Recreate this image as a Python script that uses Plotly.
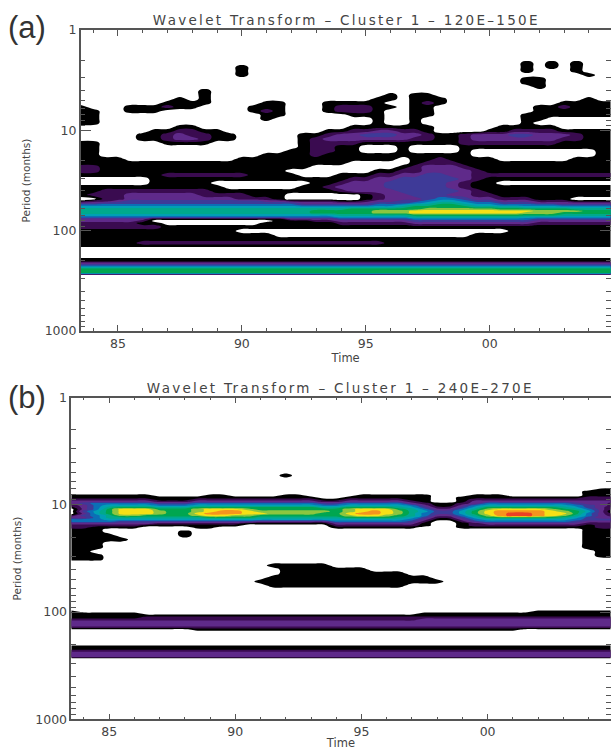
import plotly.graph_objects as go

W, H = 611, 750

YEARS = [83.5 + 0.5 * k for k in range(44)]
TICK_YEARS = [85, 90, 95, 100]
TICK_YEAR_LABELS = ["85", "90", "95", "00"]
TICK_PERIODS = [1, 10, 100, 1000]
TICK_PERIOD_LABELS = ["1", "10", "100", "1000"]
MINOR_PERIODS = [2, 3, 4, 5, 6, 7, 8, 9, 20, 30, 40, 50, 60, 70, 80, 90,
                 200, 300, 400, 500, 600, 700, 800, 900]
MINOR_YEARS = [84, 86, 87, 88, 89, 91, 92, 93, 94, 96, 97, 98, 99, 101, 102, 103, 104]

# contour band per cell: 0 white, 1 black, 2.. rainbow up to c = red
COLORS = ["#ffffff", "#000000", "#3a0b50", "#5f2a8a", "#3e3a98", "#0b6fb6", "#00a0b4",
          "#00a98c", "#00a650", "#8cc63f", "#f6e016", "#f7941d", "#ee4023"]

PERIODS_A = [1, 1.78, 1.95, 2.13, 2.34, 2.56, 2.81, 3.08, 3.37, 3.70, 4.05, 4.45, 4.87, 5.34,
             5.85, 6.42, 7.03, 7.71, 8.45, 9.27, 10.2, 11.1, 12.2, 13.4, 14.7, 16.1, 17.6,
             19.3, 21.2, 23.2, 25.4, 27.9, 30.5, 33.5, 36.7, 40.2, 44.2, 48.3, 50.6, 53.0,
             55.5, 58.1, 60.8, 63.7, 66.7, 69.8, 73.1, 76.5, 80.1, 83.9, 91.9, 101, 110, 121,
             133, 142, 149, 183, 191, 201, 210, 220, 230, 241, 252, 264, 277, 1000]
BANDS_A = [
 "0000000000 0000000000 0000000000 0000000000 0000",
 "0000000000 0000000000 0000000000 0000000000 0000",
 "0000000000 0000000000 0000000000 0000000000 0000",
 "0000000000 0000000000 0000000000 0000001010 1000",
 "0000000000 0001000000 0000000000 0000001010 1000",
 "0000000000 0001000000 0000000000 0000001000 1000",
 "0000000000 0001000000 0000000000 0000000000 0100",
 "0000000000 0000000000 0000000000 0000001100 0000",
 "0000000000 0000000000 0000000000 0000001100 0000",
 "0000000000 0000000000 0000000000 0000000100 0000",
 "0000000000 1000000000 0000000000 0000000000 0000",
 "0000000000 1000000000 0000010110 0000000000 0000",
 "0000000010 1000000000 0000110111 0000000000 0100",
 "0000000111 1000011000 1111100121 0000000001 1111",
 "1000111211 0000111000 1222110110 0000000112 1111",
 "1100111000 0000121000 1222100110 0000000111 1111",
 "1100000000 0000011000 0011100110 0000001111 1111",
 "1100000000 0000010000 0000100100 0000001100 0000",
 "1100000000 0000000000 0000100100 0000001000 0000",
 "0000000011 0000000000 0011111110 0000111110 0000",
 "0000001122 1100000000 1122332210 0001122221 1111",
 "0000011232 2110000011 2334443321 1233344333 2111",
 "0000011233 2110000012 3333333221 1233333332 2111",
 "1100000111 1000000012 2221111111 1222222221 1111",
 "1100000000 0000000012 2110001000 0111111111 1111",
 "1100000000 0000000112 2110001000 0100000000 0011",
 "1100000000 0000011112 1111111111 1100000000 0011",
 "1111000000 0001111111 1111110112 1111000000 1111",
 "1111111111 1111111111 1100000122 2111111111 1111",
 "2211111111 1111111110 0000001233 3211111111 1111",
 "2211111111 1111111000 0000112233 3321111111 1111",
 "1111111222 2222111100 0111223344 3322222222 2222",
 "0000001111 1111111111 1122334444 4321111111 1111",
 "0000001111 1000000001 1233344444 3211000000 0000",
 "1111111111 1100000011 2333344444 3211111111 1111",
 "1122222222 2111111111 1233334444 4321111111 1111",
 "1222333333 2222111000 0001233444 3322111111 1111",
 "0022333333 3332221000 0001233345 5433222111 0000",
 "1223444444 4444433222 2112334456 6544333222 1111",
 "3344444444 4444444433 3333444567 7655444333 3333",
 "5555555555 5555555544 4444556778 8766555554 4444",
 "6666666666 6666666666 6666667888 8877776666 6666",
 "7777777777 7777777777 7788888899 9999888888 7777",
 "7777777777 7777777778 8888999aaa aaaaaaa999 9888",
 "7777777777 7777777778 8888999aaa aaaaaa9998 8888",
 "6666666666 6666666666 6777777888 8888888887 7777",
 "5555555555 5555555555 5666666777 7777776666 6666",
 "3333331111 1111111333 3444444555 5555555444 4444",
 "3333320000 0000001112 2333333444 4444444333 3333",
 "2222211000 0000011111 1222222333 3333333222 2222",
 "2222222111 1111111111 1111111111 1111111111 1111",
 "1111111111 1110000000 0000000000 0000011111 1111",
 "1111111111 1111110000 0000000000 0011111111 1111",
 "1111111111 1111111111 1111111111 1111111111 1111",
 "1111122222 2222222222 2222211111 1111111111 1111",
 "1111111111 1111111111 1111111111 1111111111 1111",
 "0000000000 0000000000 0000000000 0000000000 0000",
 "0000000000 0000000000 0000000000 0000000000 0000",
 "1111111111 1111111111 1111111111 1111111111 1111",
 "1111111111 1111111111 1111111111 1111111111 1111",
 "3333333333 3333333333 3333333333 3333333333 3333",
 "4444444444 4444444444 4444444444 4444444444 4444",
 "6666666666 6666666666 6666666666 6666666666 6666",
 "8888888888 8888888888 8888888888 8888888888 8888",
 "8888888888 8888888888 8888888888 8888888888 8888",
 "8888888888 8888888888 8888888888 8888888888 8888",
 "0000000000 0000000000 0000000000 0000000000 0000",
 "0000000000 0000000000 0000000000 0000000000 0000",
]

PERIODS_B = [1, 4.87, 5.31, 5.79, 6.87, 7.18, 7.49, 7.82, 8.16, 8.52, 8.90, 9.29, 9.70, 10.1,
             10.6, 11.0, 11.5, 12.0, 12.6, 13.1, 13.7, 14.3, 14.9, 15.6, 16.2, 17.0, 17.7,
             19.3, 21.0, 22.9, 25.0, 27.2, 29.6, 32.3, 33.7, 36.8, 40.1, 43.7, 47.6, 51.9,
             56.5, 61.6, 90.7, 94.7, 98.9, 103, 108, 112, 117, 123, 128, 134, 139, 146, 152,
             201, 210, 219, 229, 239, 249, 260, 272, 1000]
BANDS_B = [
 "0000000000 0000000000 0000000000 0000000000 0000",
 "0000000000 0000000000 0000000000 0000000000 0000",
 "0000000000 0000000100 0000000000 0000000000 0000",
 "0000000000 0000000000 0000000000 0000000000 0000",
 "0000000000 0000000000 0000000000 0000000000 0000",
 "0000000000 0000000000 0000000000 0000000000 0011",
 "0000000000 0000000000 0000000000 0000000000 0111",
 "0000000000 0000000000 0000000000 0000000000 0111",
 "1111111000 0110000110 0001111110 0011100000 0111",
 "1111111111 1111111111 0011111110 0111111111 1222",
 "2222222111 2222222222 1122222110 0122222222 2222",
 "3333333222 3333333333 2233333210 0133333333 3333",
 "3455555444 5555555555 4455555321 1235555555 4332",
 "2356666555 6666666666 5566666531 1356666666 5432",
 "1357888777 8888888888 7788887642 2468888887 6431",
 "0358aaa888 9aaa988888 889aaa8753 3579aaaa98 7531",
 "0468aaa988 9abba99999 989aba9764 468abbbba9 8630",
 "0368aaa988 abbbaa9999 88abba9754 468abccbaa 8531",
 "2457998888 9aa9988888 889aa98753 3579bccba9 7532",
 "3357777777 7888877777 7788887642 2468888887 6433",
 "5556666666 6666666666 6666666531 1356666666 5444",
 "5555444444 4444433333 3555555420 0245555555 4333",
 "3333333222 2222111111 1333333310 0123333333 3222",
 "2222221111 1111000000 0222222210 0122222222 2122",
 "2211110000 1100000000 0111111100 0111111111 1122",
 "1110000000 0000000000 0000000000 0000000000 0111",
 "1110000001 0000000000 0000000000 0000000000 0111",
 "1111000001 0000000000 0000000000 0000000000 0111",
 "1111100000 0000000000 0000000000 0000000000 0111",
 "1110000000 0000000000 0000000000 0000000000 0111",
 "1110000000 0000000000 0000000000 0000000000 0111",
 "1100000000 0000000000 0000000000 0000000000 0011",
 "1110000000 0000000000 0000000000 0000000000 0011",
 "1110000000 0000000000 0000000000 0000000000 0000",
 "0000000000 0000000000 0000000000 0000000000 0000",
 "0000000000 0000001111 1000000000 0000000000 0000",
 "0000000000 0000000111 1111000000 0000000000 0000",
 "0000000000 0000000111 1111111000 0000000000 0000",
 "0000000000 0000001111 1111111110 0000000000 0000",
 "0000000000 0000011111 1111111111 0000000000 0000",
 "0000000000 0000001111 1111111000 0000000000 0000",
 "0000000000 0000000000 0000000000 0000000000 0000",
 "0000000000 0000000000 0000000000 0000000000 0000",
 "0000000000 0000000000 0000000000 0000000000 0000",
 "1000000000 0000000000 0000000000 0000000111 1111",
 "1111110000 0000000000 0000000011 1111111111 1111",
 "1111111111 1111111111 1111111111 1111111111 1111",
 "1111112222 2222222222 2222222222 2222222222 2222",
 "2222222222 2222222222 2222222233 3333333333 3333",
 "3333333333 3333333333 3333333333 3333333333 3333",
 "3333333333 3333333333 3333333333 3333333333 3333",
 "3333333333 3333333333 3333333333 3333333333 3333",
 "2222222222 2222222222 2222222222 2222222222 2222",
 "0000000000 1111111111 1111111111 1111110000 0000",
 "0000000000 0000000000 0000000000 0000000000 0000",
 "0000000000 0000000000 0000000000 0000000000 0000",
 "1111111111 1111111111 1111111111 1111111111 1111",
 "1111111111 1111111111 1111111111 1111111111 1111",
 "2222222222 2222222222 2222222222 2222222222 2222",
 "3333333333 3333333333 3333333333 3333333333 3333",
 "3333333333 3333333333 3333333333 3333333333 3333",
 "3333333333 3333333333 3333333333 3333333333 3333",
 "0000000000 0000000000 0000000000 0000000000 0000",
 "0000000000 0000000000 0000000000 0000000000 0000",
]


def grid(rows):
    out = []
    for r in rows:
        s = r.replace(" ", "")
        s = (s + s[-1] * 44)[:44]
        out.append([int(c, 16) for c in s])
    return out


n = len(COLORS)
scale = []
for i, c in enumerate(COLORS):
    scale += [[i / n, c], [(i + 1) / n, c]]


def contour(periods, rows, xaxis, yaxis):
    return go.Contour(
        x=YEARS, y=periods, z=grid(rows), xaxis=xaxis, yaxis=yaxis,
        colorscale=scale, zmin=-0.5, zmax=n - 0.5, showscale=False,
        autocontour=False,
        contours=dict(start=0.5, end=n - 1.5, size=1, coloring="fill", showlines=False),
        line=dict(width=0, smoothing=1.3),
        hoverinfo="skip",
    )


fig = go.Figure()
fig.add_trace(contour(PERIODS_A, BANDS_A, "x", "y"))
fig.add_trace(contour(PERIODS_B, BANDS_B, "x2", "y2"))

AX = "#555555"
FONT = "DejaVu Sans"
TXT = "#444444"


def xax(x0, x1, anchor, standoff):
    return dict(
        domain=[x0 / W, x1 / W], anchor=anchor, range=[83.5, 104.87], tickmode="array",
        tickvals=TICK_YEARS, ticktext=TICK_YEAR_LABELS, ticks="inside", ticklen=6, tickwidth=1,
        tickcolor=AX, linecolor=AX, linewidth=1.5, mirror="allticks", showgrid=False, zeroline=False,
        minor=dict(tickmode="array", tickvals=MINOR_YEARS, ticks="inside", ticklen=3, tickwidth=1,
                   tickcolor=AX, showgrid=False),
        tickfont=dict(family=FONT, size=12.5, color=TXT),
        title=dict(text="Time", font=dict(family=FONT, size=11.5, color=TXT), standoff=standoff),
        automargin=False,
    )


def yax(y0, y1, anchor, standoff):
    return dict(
        domain=[1 - y1 / H, 1 - y0 / H], anchor=anchor, type="log", range=[3, 0], tickmode="array",
        tickvals=TICK_PERIODS, ticktext=TICK_PERIOD_LABELS, ticks="inside", ticklen=11, tickwidth=1,
        tickcolor=AX, linecolor=AX, linewidth=1.5, mirror="allticks", showgrid=False, zeroline=False,
        minor=dict(tickmode="array", tickvals=MINOR_PERIODS, ticks="inside", ticklen=5, tickwidth=1,
                   tickcolor=AX, showgrid=False),
        tickfont=dict(family=FONT, size=12.5, color=TXT),
        title=dict(text="Period (months)", font=dict(family=FONT, size=10.5, color=TXT), standoff=standoff),
        automargin=False,
    )


fig.update_layout(
    width=W, height=H, autosize=False, margin=dict(l=0, r=0, t=0, b=0),
    paper_bgcolor="white", plot_bgcolor="white", showlegend=False,
    xaxis=xax(80.7, 610.5, "y", 2),
    yaxis=yax(30, 331, "x", 12),
    xaxis2=xax(71.3, 610.5, "y2", 2),
    yaxis2=yax(397.7, 719.3, "x2", 12),
    annotations=[
        dict(text="Wavelet Transform – Cluster 1 – 120E–150E", x=346.5 / W, y=1 - 20 / H,
             xref="paper", yref="paper", showarrow=False, xanchor="center", yanchor="middle",
             font=dict(family=FONT, size=13.5, color=TXT)),
        dict(text="Wavelet Transform – Cluster 1 – 240E–270E", x=340 / W, y=1 - 388 / H,
             xref="paper", yref="paper", showarrow=False, xanchor="center", yanchor="middle",
             font=dict(family=FONT, size=13.5, color=TXT)),
        dict(text="(a)", x=27 / W, y=1 - 28 / H, xref="paper", yref="paper", showarrow=False,
             xanchor="center", yanchor="middle", font=dict(family="Liberation Sans", size=31, color="#333333")),
        dict(text="(b)", x=27 / W, y=1 - 397 / H, xref="paper", yref="paper", showarrow=False,
             xanchor="center", yanchor="middle", font=dict(family="Liberation Sans", size=31, color="#333333")),
    ],
)

POST = """
document.body.style.margin = '0';
document.documentElement.style.overflow = 'hidden';
document.querySelectorAll('.annotation-text').forEach(function (t) {
  if (t.textContent.indexOf('Wavelet') === 0) { t.setAttribute('style', t.getAttribute('style') + ';letter-spacing:2.3px'); }
});
"""
fig.write_html("out.html", post_script=POST, config=dict(displayModeBar=False))
